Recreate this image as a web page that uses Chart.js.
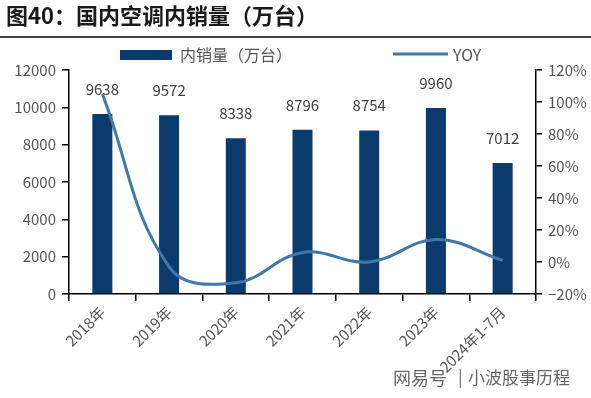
<!DOCTYPE html>
<html>
<head>
<meta charset="utf-8">
<script src="https://cdn.jsdelivr.net/npm/chart.js@4/dist/chart.umd.min.js"></script>
<style>
  html, body { margin: 0; padding: 0; background: #fff; }
  #wrap { width: 591px; height: 398px; position: relative; }
</style>
</head>
<body>
<div id="wrap"><canvas id="salesChart" width="591" height="398"></canvas></div>
<script>
const categories = ['2018年', '2019年', '2020年', '2021年', '2022年', '2023年', '2024年1-7月'];
const salesValues = [9638, 9572, 8338, 8796, 8754, 9960, 7012];
const yoyValues = [105, -3, -13, 6, 0, 14, 1];
const leftTicks = [0, 2000, 4000, 6000, 8000, 10000, 12000];
const rightTicks = [-20, 0, 20, 40, 60, 80, 100, 120];

const barColor = '#0b3a6d';
const lineColor = '#4178aa';
const textColor = '#555555';
const fontFamily = '"Noto Sans CJK SC", "Noto Sans", sans-serif';

// title, rule, legend, value labels and watermark
const decorPlugin = {
    id: 'decor',
    afterDatasetsDraw(chart) {
        const ctx = chart.ctx;
        const meta = chart.getDatasetMeta(0);
        ctx.save();
        ctx.fillStyle = '#404040';
        ctx.font = '15px ' + fontFamily;
        ctx.textAlign = 'center';
        ctx.textBaseline = 'middle';
        meta.data.forEach((bar, i) => {
            ctx.fillText(String(salesValues[i]), bar.x, bar.y - 25);
        });
        ctx.restore();
    },
    afterDraw(chart) {
        const ctx = chart.ctx;
        ctx.save();
        // title
        ctx.fillStyle = '#1a1a1a';
        ctx.font = 'bold 22px ' + fontFamily;
        ctx.textAlign = 'left';
        ctx.textBaseline = 'middle';
        ctx.fillText('图40：国内空调内销量（万台）', 6, 16);
        // rule under title
        ctx.strokeStyle = '#000';
        ctx.lineWidth = 1.5;
        ctx.beginPath();
        ctx.moveTo(0, 37);
        ctx.lineTo(591, 37);
        ctx.stroke();
        // legend
        ctx.fillStyle = barColor;
        ctx.fillRect(120, 50, 52, 10);
        ctx.fillStyle = textColor;
        ctx.font = '16px ' + fontFamily;
        ctx.fillText('内销量（万台）', 180, 55);
        ctx.strokeStyle = lineColor;
        ctx.lineWidth = 3;
        ctx.beginPath();
        ctx.moveTo(393, 54);
        ctx.lineTo(448, 54);
        ctx.stroke();
        ctx.fillText('YOY', 453, 55);
        // watermark
        ctx.fillStyle = '#666';
        ctx.font = '18px ' + fontFamily;
        ctx.fillText('网易号', 393, 378);
        ctx.font = '17px ' + fontFamily;
        ctx.fillText('|', 458, 377);
        ctx.fillText('小波股事历程', 468, 378);
        ctx.restore();
    }
};

new Chart(document.getElementById('salesChart').getContext('2d'), {
    type: 'bar',
    data: {
        labels: categories,
        datasets: [{
            label: '内销量（万台）',
            data: salesValues,
            backgroundColor: barColor,
            barPercentage: 0.3,
            categoryPercentage: 1,
            yAxisID: 'y',
            order: 2
        }, {
            label: 'YOY',
            type: 'line',
            data: yoyValues,
            borderColor: lineColor,
            borderWidth: 3,
            pointRadius: 0,
            tension: 0.4,
            fill: false,
            yAxisID: 'y1',
            order: 1
        }]
    },
    options: {
        responsive: false,
        animation: false,
        layout: { padding: { top: 70, left: 0, right: 0, bottom: 0 } },
        plugins: {
            legend: { display: false },
            title: { display: false },
            tooltip: { enabled: false }
        },
        scales: {
            x: {
                grid: { drawOnChartArea: false, drawTicks: true, tickLength: 7, color: '#000', lineWidth: 1.5 },
                border: { display: true, color: '#000', width: 1.5 },
                ticks: {
                    color: textColor,
                    font: { size: 15, family: fontFamily },
                    minRotation: 45,
                    maxRotation: 45,
                    padding: 2,
                    autoSkip: false
                },
                afterFit(scale) { scale.height = 104; }
            },
            y: {
                position: 'left',
                min: 0,
                max: 12000,
                afterBuildTicks(scale) { scale.ticks = leftTicks.map(v => ({ value: v })); },
                grid: { drawOnChartArea: false, drawTicks: true, tickLength: 7, color: '#000', lineWidth: 1.5 },
                border: { display: true, color: '#000', width: 1.5 },
                ticks: {
                    color: textColor,
                    font: { size: 15, family: fontFamily },
                    padding: 6,
                    callback: v => String(v)
                },
                afterFit(scale) { scale.width = 69; }
            },
            y1: {
                position: 'right',
                min: -20,
                max: 120,
                afterBuildTicks(scale) { scale.ticks = rightTicks.map(v => ({ value: v })); },
                grid: { drawOnChartArea: false, drawTicks: true, tickLength: 6, color: '#000', lineWidth: 1.5 },
                border: { display: true, color: '#000', width: 1.5 },
                ticks: {
                    color: textColor,
                    font: { size: 15, family: fontFamily },
                    padding: 6,
                    callback: v => (v < 0 ? '−' + Math.abs(v) : v) + '%'
                },
                afterFit(scale) { scale.width = 55; }
            }
        }
    },
    plugins: [decorPlugin]
});
</script>
</body>
</html>
